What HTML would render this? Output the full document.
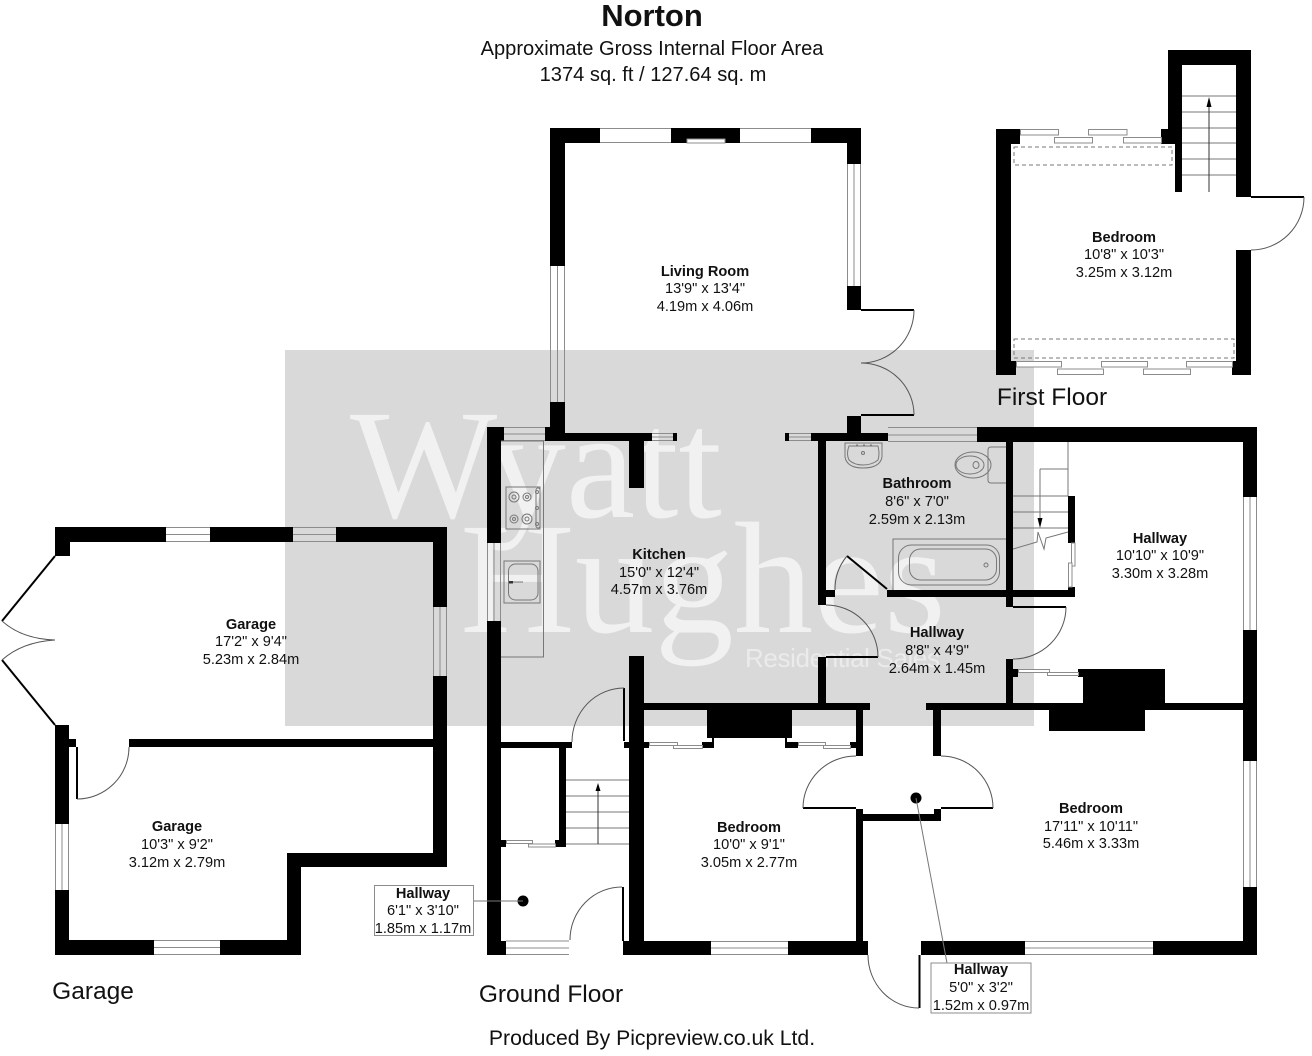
<!DOCTYPE html>
<html><head><meta charset="utf-8"><title>Norton floor plan</title>
<style>
html,body{margin:0;padding:0;background:#fff}
svg{display:block}
text{font-family:"Liberation Sans",sans-serif;fill:#111;text-anchor:middle}
.b{font-weight:bold;font-size:14.6px}
.d{font-size:14.6px}
.w{fill:#000;stroke:none}
.win{stroke:#8c8c8c;stroke-width:1;fill:none}
.p{stroke:#8c8c8c;stroke-width:1;fill:#fff}
.arc{stroke:#555;stroke-width:1;fill:none}
.leaf{stroke:#000;stroke-width:2;fill:none}
.f{stroke:#777;stroke-width:1;fill:none}
.big{font-size:24.5px}
.t{font-size:20.1px}
.wm{font-family:"Liberation Serif",serif;fill:#f1f1f1;text-anchor:start}
</style></head><body>
<svg width="1312" height="1056" viewBox="0 0 1312 1056" xmlns="http://www.w3.org/2000/svg">
<rect width="1312" height="1056" fill="#fff"/>
<rect x="285" y="350" width="749" height="376" fill="#d9d9d9"/>
<text class="wm" x="350" y="517" font-size="156">Wyatt</text>
<text class="wm" x="460" y="632" font-size="159">Hughes</text>
<text x="745" y="667" font-size="26" style="fill:#ebebeb;text-anchor:start" textLength="195">Residential Sales</text>

<!-- titles -->
<text x="652" y="26" font-size="31" font-weight="bold">Norton</text>
<text class="t" x="652" y="55">Approximate Gross Internal Floor Area</text>
<text class="t" x="653" y="81">1374 sq. ft / 127.64 sq. m</text>
<text class="big" x="1052" y="405">First Floor</text>
<text class="big" x="551" y="1002">Ground Floor</text>
<text class="big" x="93" y="999">Garage</text>
<text x="652" y="1045" font-size="21.2">Produced By Picpreview.co.uk Ltd.</text>

<!-- WALLS -->
<g class="w">
<!-- living -->
<rect x="550" y="128" width="50" height="15"/><rect x="671" y="128" width="69" height="15"/><rect x="811" y="128" width="50" height="15"/>
<rect x="550" y="128" width="15" height="138"/><rect x="550" y="402" width="15" height="39"/>
<rect x="847" y="128" width="14" height="36"/><rect x="847" y="286" width="14" height="24"/>
<rect x="847" y="416" width="14" height="25"/>
<!-- kitchen top -->
<rect x="545" y="427" width="20" height="14"/><rect x="545" y="433" width="107" height="8"/><rect x="673" y="433" width="4" height="8"/>
<rect x="629" y="441" width="15" height="47"/>
<rect x="487" y="427" width="17" height="14"/><rect x="487" y="427" width="14" height="116"/><rect x="487" y="621" width="14" height="334"/>
<rect x="785" y="433" width="4" height="8"/><rect x="811" y="433" width="77" height="8"/>
<rect x="818" y="441" width="8" height="164"/><rect x="826" y="590" width="9" height="7"/>
<rect x="887" y="590" width="188" height="7"/>
<!-- top right -->
<rect x="977" y="427" width="280" height="15"/><rect x="1006" y="442" width="7" height="149"/><rect x="1006" y="590" width="7" height="17"/>
<rect x="1243" y="427" width="14" height="70"/><rect x="1243" y="630" width="14" height="131"/><rect x="1243" y="887" width="14" height="68"/>
<rect x="1068" y="496" width="7" height="47"/><rect x="1068" y="587" width="7" height="10"/>
<rect x="1006" y="659" width="7" height="44"/><rect x="1013" y="669" width="5" height="8"/>
<rect x="1078" y="669" width="87" height="8"/><rect x="1083" y="669" width="82" height="34"/>
<rect x="926" y="703" width="317" height="7"/><rect x="1049" y="710" width="96" height="21"/>
<rect x="933" y="710" width="8" height="46"/>
<!-- centre -->
<rect x="818" y="657" width="8" height="46"/><rect x="643" y="703" width="227" height="7"/>
<rect x="629" y="656" width="15" height="299"/>
<rect x="707" y="710" width="85" height="28"/><rect x="702" y="742" width="12" height="6"/><rect x="712" y="738" width="2" height="4"/>
<rect x="785" y="738" width="2" height="4"/><rect x="785" y="742" width="13" height="6"/>
<rect x="644" y="742" width="5" height="6"/><rect x="850" y="742" width="6" height="6"/>
<rect x="856" y="710" width="7" height="46"/><rect x="856" y="809" width="7" height="132"/>
<rect x="856" y="814" width="85" height="7"/><rect x="934" y="809" width="7" height="12"/>
<rect x="623" y="941" width="88" height="14"/><rect x="788" y="941" width="80" height="14"/>
<rect x="921" y="941" width="104" height="14"/><rect x="1153" y="941" width="104" height="14"/>
<!-- hall left -->
<rect x="487" y="941" width="19" height="14"/>
<rect x="501" y="742" width="71" height="6"/><rect x="559" y="748" width="7" height="99"/>
<rect x="555" y="840" width="11" height="7"/><rect x="501" y="840" width="5" height="7"/>
<rect x="624" y="742" width="5" height="6"/>
<!-- garage -->
<rect x="55" y="527" width="111" height="15"/><rect x="210" y="527" width="83" height="15"/><rect x="336" y="527" width="111" height="15"/>
<rect x="55" y="527" width="15" height="29"/>
<rect x="433" y="527" width="14" height="80"/><rect x="433" y="676" width="14" height="191"/>
<rect x="129" y="739" width="304" height="8"/>
<rect x="287" y="853" width="160" height="14"/><rect x="287" y="853" width="14" height="102"/>
<rect x="55" y="940" width="99" height="15"/><rect x="220" y="940" width="81" height="15"/>
<rect x="55" y="725" width="14" height="99"/><rect x="55" y="890" width="14" height="65"/>
<rect x="69" y="739" width="7" height="8"/>
<!-- first floor -->
<rect x="996" y="129" width="15" height="246"/><rect x="996" y="129" width="24" height="15"/>
<rect x="996" y="361" width="20" height="14"/><rect x="1232" y="361" width="19" height="14"/>
<rect x="1236" y="250" width="15" height="125"/>
<rect x="1161" y="129" width="14" height="15"/>
<rect x="1168" y="50" width="14" height="79"/><rect x="1175" y="129" width="7" height="63"/>
<rect x="1168" y="50" width="83" height="15"/><rect x="1236" y="50" width="15" height="147"/>
</g>

<!-- WINDOWS -->
<g class="win">
<path d="M600 128.500H671M600 142.500H671"/><path d="M740 128.500H811M740 142.500H811"/>
<path d="M550.500 266V402M564.500 266V402M557.500 266V402"/>
<path d="M847.500 164V286M860.500 164V286M854 164V286"/>
<path d="M504 427.500H545M504 434H545M504 440.500H545"/>
<path d="M652 433.500H673M652 437H673M652 440.500H673"/>
<path d="M789 433.500H811M789 437H811M789 440.500H811"/>
<path d="M888 427.500H977M888 435H977M888 441.500H977"/>
<path d="M487.500 543V621M494 543V621M500.500 543V621"/>
<path d="M1243.500 497V630M1250 497V630M1256.500 497V630"/>
<path d="M711 941.500H788M711 948H788M711 954.500H788"/>
<path d="M506 941H569M506 948H569M506 954.500H569"/>
<path d="M1025 941.500H1153M1025 948H1153M1025 954.500H1153"/>
<path d="M1243.500 761V887M1250 761V887M1256.500 761V887"/>
<path d="M166 527.500H210M166 534.500H210M166 541.500H210"/>
<path d="M293 527.500H336M293 534.500H336M293 541.500H336"/>
<path d="M433.500 607V676M440 607V676M446.500 607V676"/>
<path d="M55.500 824V890M62 824V890M68.500 824V890"/>
<path d="M154 940.500H220M154 947.500H220M154 954.500H220"/>
</g>
<rect x="687" y="139" width="38" height="4" class="p"/>
<!-- sliding panels -->
<g class="p">
<rect x="1018.500" y="669.500" width="31" height="3"/><rect x="1047.500" y="672.500" width="31" height="3"/>
<rect x="649.500" y="742.500" width="28" height="3"/><rect x="673.500" y="745.500" width="29" height="3"/>
<rect x="798.500" y="742.500" width="27" height="3"/><rect x="823.500" y="745.500" width="27" height="3"/>
<rect x="506.500" y="840.500" width="26" height="3"/><rect x="528.500" y="844" width="27" height="3"/>
<rect x="1071.500" y="543" width="3.500" height="23"/><rect x="1068.500" y="563" width="3.500" height="24"/>
<rect x="1020.500" y="129.500" width="38" height="5.500"/><rect x="1054.500" y="137.500" width="38" height="5.500"/>
<rect x="1088.500" y="129.500" width="38.500" height="5.500"/><rect x="1123.500" y="137.500" width="38" height="5.500"/>
<rect x="1016.500" y="361.500" width="45" height="5.500"/><rect x="1057.500" y="369" width="46" height="5.500"/>
<rect x="1101.500" y="361.500" width="46" height="5.500"/><rect x="1143.500" y="369" width="47" height="5.500"/>
<rect x="1186.500" y="361.500" width="46" height="5.500"/>
</g>

<!-- DOORS -->
<g class="leaf">
<path d="M861 310H914"/><path d="M861 415H914"/>
<path d="M826 657H878"/><path d="M887 589L847 556"/>
<path d="M1013 607H1066"/><path d="M77 747V799"/>
<path d="M55 556L2 621"/><path d="M55 725L2 660"/>
<path d="M1251 197H1304"/><path d="M624 688V741"/><path d="M623 887V941"/>
<path d="M803 808H856"/><path d="M941 808H993"/><path d="M919.500 955V1008"/>
</g>
<g class="arc">
<path d="M914 310A53 53 0 0 1 861 363"/><path d="M861 363A53 52 0 0 1 914 415"/>
<path d="M878 657A52 52 0 0 0 826 605"/><path d="M847 556A52 52 0 0 0 835 590"/>
<path d="M1066 607A53 52 0 0 1 1013 659"/><path d="M77 799A52 52 0 0 0 129 747"/>
<path d="M2 621Q22 639 55 640"/><path d="M2 660Q22 642 55 640"/>
<path d="M1304 197A53 53 0 0 1 1251 250"/><path d="M624 688A52 54 0 0 0 572 742"/>
<path d="M622 887A52 53 0 0 0 570 940"/><path d="M803 808A53 52 0 0 1 856 756"/>
<path d="M941 756A52 52 0 0 1 993 808"/><path d="M919 1008A51 53 0 0 1 868 955"/>
</g>

<!-- STAIRS -->
<g class="f">
<path d="M1182 96H1236M1182 112H1236M1182 128H1236M1182 143H1236M1182 159H1236M1182 175H1236"/>
<path d="M1209 192V105" stroke="#333"/>
<path d="M566 780H629M566 796H629M566 812H629M566 828H629M566 844H629"/>
<path d="M598 844V788" stroke="#333"/>
<path d="M1068 442V496M1013 496H1068M1013 512H1068M1013 528H1068"/>
<path d="M1040 469H1068M1040 469V520"/>
<path d="M1013 549L1037 542L1038 532L1044 549L1046 538L1068 532"/>
<path d="M1014 147h158v18h-158z" stroke-dasharray="4 3"/>
<path d="M1014 339h220v19h-220z" stroke-dasharray="4 3"/>
</g>
<path d="M1209 97l-2.500 10h5z M598 783l-2.500 8h5z M1040 528l-2.500 -10h5z" fill="#000"/>

<!-- KITCHEN FITTINGS -->
<g class="f">
<path d="M501 441H543.500V657H501"/>
<rect x="506" y="487" width="34" height="42"/>
<circle cx="514" cy="497" r="5"/><circle cx="527" cy="497" r="4"/><circle cx="514" cy="519" r="4"/><circle cx="527" cy="519" r="5"/>
<circle cx="514" cy="497" r="2"/><circle cx="527" cy="497" r="1.500"/><circle cx="514" cy="519" r="1.500"/><circle cx="527" cy="519" r="2"/>
<rect x="536" y="488" width="4" height="40" rx="2"/>
<circle cx="537" cy="492" r="1.500"/><circle cx="537" cy="508" r="1.500"/><circle cx="537" cy="524" r="1.500"/>
<rect x="504" y="561" width="36" height="42"/>
<rect x="508.500" y="564" width="29.500" height="36" rx="7"/>
<path d="M508 582H523"/>
<!-- bath -->
<path d="M1006 539H893V590"/>
<rect x="898.500" y="545" width="101" height="40" rx="13"/>
<rect x="909.500" y="549" width="87" height="31" rx="11"/>
<circle cx="986" cy="565" r="2"/>
<!-- toilet -->
<path d="M1006 447H991q-3 0-3 3V480q0 3 3 3H1006"/>
<ellipse cx="973" cy="465" rx="18" ry="13"/><ellipse cx="970" cy="465" rx="14" ry="9"/><ellipse cx="976" cy="465" rx="3" ry="3.500"/>
<!-- basin -->
<path d="M845 443H882V457Q880 468 863 468Q847 468 845 457Z"/>
<path d="M849 446H878Q880 454 878 460Q872 465 863 465Q854 465 849 460Q846 454 849 446Z"/>
<circle cx="863" cy="453" r="1.500"/><path d="M856 445h2M863 445h2M870 445h2"/>
</g>
<rect x="509" y="581" width="4" height="2.500" fill="#333"/>

<!-- leaders -->
<circle cx="523" cy="901" r="5.500" fill="#000"/><path d="M473 901H523" stroke="#777" stroke-width="1"/>
<circle cx="916" cy="798" r="5.500" fill="#000"/><path d="M916 798L947 963" stroke="#777" stroke-width="1"/>
<rect x="374.500" y="885.500" width="99" height="50" fill="#fff" stroke="#8c8c8c"/>
<rect x="931" y="963" width="100" height="50" fill="#fff" stroke="#8c8c8c"/>

<!-- LABELS -->
<text class="b" x="705" y="276">Living Room</text><text class="d" x="705" y="293">13'9" x 13'4"</text><text class="d" x="705" y="311">4.19m x 4.06m</text>
<text class="b" x="659" y="559">Kitchen</text><text class="d" x="659" y="577">15'0" x 12'4"</text><text class="d" x="659" y="594">4.57m x 3.76m</text>
<text class="b" x="917" y="488">Bathroom</text><text class="d" x="917" y="506">8'6" x 7'0"</text><text class="d" x="917" y="524">2.59m x 2.13m</text>
<text class="b" x="1160" y="543">Hallway</text><text class="d" x="1160" y="560">10'10" x 10'9"</text><text class="d" x="1160" y="578">3.30m x 3.28m</text>
<text class="b" x="937" y="637">Hallway</text><text class="d" x="937" y="655">8'8" x 4'9"</text><text class="d" x="937" y="673">2.64m x 1.45m</text>
<text class="b" x="1124" y="242">Bedroom</text><text class="d" x="1124" y="259">10'8" x 10'3"</text><text class="d" x="1124" y="277">3.25m x 3.12m</text>
<text class="b" x="251" y="629">Garage</text><text class="d" x="251" y="646">17'2" x 9'4"</text><text class="d" x="251" y="664">5.23m x 2.84m</text>
<text class="b" x="177" y="831">Garage</text><text class="d" x="177" y="849">10'3" x 9'2"</text><text class="d" x="177" y="867">3.12m x 2.79m</text>
<text class="b" x="423" y="898">Hallway</text><text class="d" x="423" y="915">6'1" x 3'10"</text><text class="d" x="423" y="933">1.85m x 1.17m</text>
<text class="b" x="749" y="832">Bedroom</text><text class="d" x="749" y="849">10'0" x 9'1"</text><text class="d" x="749" y="867">3.05m x 2.77m</text>
<text class="b" x="1091" y="813">Bedroom</text><text class="d" x="1091" y="831">17'11" x 10'11"</text><text class="d" x="1091" y="848">5.46m x 3.33m</text>
<text class="b" x="981" y="974">Hallway</text><text class="d" x="981" y="992">5'0" x 3'2"</text><text class="d" x="981" y="1010">1.52m x 0.97m</text>
</svg>
</body></html>
